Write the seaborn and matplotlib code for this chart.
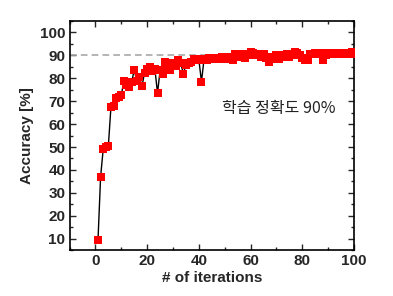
import matplotlib
matplotlib.use("Agg")
import matplotlib.pyplot as plt
import seaborn as sns
import pandas as pd
from matplotlib.ticker import MultipleLocator

iterations = list(range(1, 101))
accuracy = [
    9.5, 37, 49, 50, 50.5, 67.5, 68, 71.5, 72, 72.5,
    79, 77, 76, 78.5, 83.5, 79, 80.5, 76.5, 82.5, 84,
    85, 83, 84, 73.5, 83.5, 82, 87, 84, 83.5, 86.5,
    85.5, 88, 86.5, 82, 86, 86.5, 87, 88.5, 88.5, 88,
    78.5, 88.5, 88, 89, 88.5, 89, 88.5, 89, 89.5, 88.5,
    89, 89.5, 88, 90.5, 90, 89.5, 90.5, 89, 90, 91.5,
    91, 90, 90.5, 89.5, 90.5, 89, 87, 89.5, 88.5, 90,
    88.5, 89.5, 90, 90.5, 89.5, 90, 91.5, 91, 90, 89,
    88, 88, 90.5, 90.5, 91, 90.5, 91, 88, 90, 91,
    90.5, 91, 91, 90.5, 91, 91, 90.5, 91, 91.5, 90.5,
]
target = 90
x_ticks = [0, 20, 40, 60, 80, 100]
y_ticks = [10, 20, 30, 40, 50, 60, 70, 80, 90, 100]
annotation = "학습 정확도 90%"

df = pd.DataFrame({"iter": iterations, "acc": accuracy})

sns.set_theme(style="ticks")
plt.rcParams["font.family"] = ["Liberation Sans", "DejaVu Sans"]

fig = plt.figure(figsize=(3.93, 2.96), dpi=100)
ax = fig.add_axes([0.177, 0.155, 0.724, 0.774])

ax.axhline(target, color="#a8a8a8", linestyle=(0, (4, 2.5)), linewidth=1.2, zorder=1)
sns.lineplot(data=df, x="iter", y="acc", ax=ax, color="black", linewidth=1.0,
             marker="s", markersize=5.2, markerfacecolor="#ff0000",
             markeredgecolor="#ff0000", markeredgewidth=0, zorder=3)

ax.set_xlim(-10, 100)
ax.set_ylim(5, 105)
ax.set_xticks(x_ticks)
ax.set_yticks(y_ticks)
ax.xaxis.set_minor_locator(MultipleLocator(10))
ax.yaxis.set_minor_locator(MultipleLocator(5))
ax.tick_params(which="both", direction="in", top=True, right=True, width=1.0)
ax.tick_params(which="major", length=4, labelsize=11, pad=3)
ax.tick_params(which="minor", length=2.5)
for lab in ax.get_xticklabels() + ax.get_yticklabels():
    lab.set_fontweight("bold")
for sp in ax.spines.values():
    sp.set_linewidth(1.2)
    sp.set_color("black")

ax.set_xlabel("# of iterations", fontsize=11, fontweight="bold", labelpad=2)
ax.set_ylabel("Accuracy [%]", fontsize=11, fontweight="bold", labelpad=4)

ax.text(71, 67, annotation, fontsize=11.5, family=["Noto Sans CJK KR", "DejaVu Sans"],
        ha="center", va="center", color="#222222")

fig.savefig("out.png", dpi=100, facecolor="white")
